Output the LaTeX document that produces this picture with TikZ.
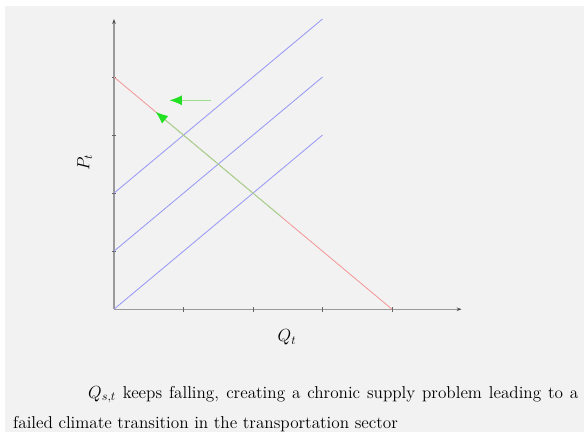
\documentclass[tikz,border=0pt]{standalone}
\usepackage{amsmath}
\usepackage{tikz}
\usetikzlibrary{arrows.meta}

\definecolor{bggray}{HTML}{F2F2F2}
\definecolor{axgray}{HTML}{9A9A9A}
\definecolor{demandred}{HTML}{F29A9A}
\definecolor{supplyblue}{HTML}{9A9AF5}
\definecolor{shiftgreen}{HTML}{9BDD8F}
\definecolor{tipgreen}{HTML}{22E022}

\begin{document}
\begin{tikzpicture}[x=57pt, y=47.6pt,
        every node/.style={font=\fontsize{14.1}{17}\selectfont},
        axis/.style={axgray, line width=1.1pt, -{Stealth[length=4pt, width=3pt, black!70]}},
        tickmark/.style={black!60, line width=0.5pt},
        supply/.style={supplyblue, line width=0.7pt},
        demand/.style={demandred, line width=0.7pt},
        shiftarrow/.style={shiftgreen, line width=0.7pt, -{Latex[length=10pt, width=8pt, tipgreen]}}]
        % page and plot background
        \fill[white] (-1.640,-2.121) rectangle (6.763,5.328);
        \fill[bggray] (-1.568,-2.121) rectangle (6.763,5.224);
        \useasboundingbox (-1.640,-2.121) rectangle (6.763,5.328);

        \coordinate (o) at (0,0);
        \coordinate (xend) at (5,0);
        \coordinate (yend) at (0,5);
        \coordinate (d0) at (0,4);
        \coordinate (d1) at (4,0);
        \coordinate (g0) at (2.4,1.6);
        \coordinate (g1) at (0.6,3.4);
        \coordinate (h0) at (1.4,3.6);
        \coordinate (h1) at (0.8,3.6);

        % axes
        \draw[axis] (o) -- (xend);
        \draw[axis] (o) -- (yend);
        \foreach \i in {1,...,4} {
            \draw[tickmark] (\i,-0.04) -- (\i,0.04);
            \draw[tickmark] (-0.035,\i) -- (0.035,\i);
        }

        % supply curves
        \foreach \s in {0,1,2} {
            \draw[supply] (0,\s) -- (3,3+\s);
        }

        % demand curve and its shift
        \draw[demand] (d0) -- (d1);
        \draw[shiftarrow] (g0) -- (g1);
        \draw[shiftarrow] (h0) -- (h1);

        \node (qt) at (2.49,-0.48) {$Q_t$};
        \node[rotate=90] (pt) at (-0.42,2.53) {$P_t$};

        \node[anchor=base west, inner sep=0pt] (cap1) at (-0.374,-1.534)
            {\makebox[402pt][s]{$Q_{s,t}$ keeps falling, creating a chronic supply problem leading to a}};
        \node[anchor=base west, inner sep=0pt] (cap2) at (-1.453,-2.052)
            {failed climate transition in the transportation sector};
\end{tikzpicture}
\end{document}
